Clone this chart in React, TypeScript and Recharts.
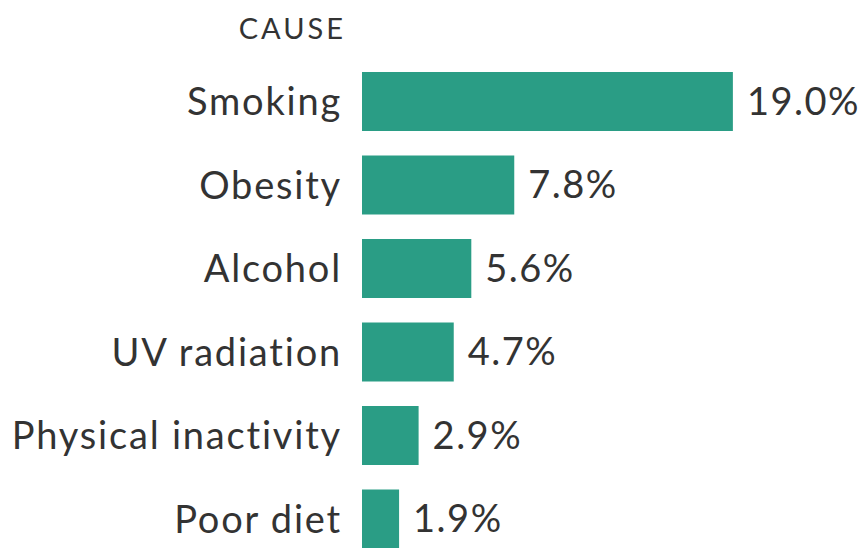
import { BarChart, Bar, XAxis, YAxis, LabelList } from "recharts";

// Share of cancer cases by cause
const causes = ["Smoking", "Obesity", "Alcohol", "UV radiation", "Physical inactivity", "Poor diet"];
const shares = [19.0, 7.8, 5.6, 4.7, 2.9, 1.9];

const data = causes.map((cause, i) => ({ cause, share: shares[i] }));

const theme = {
  bar: "#2a9d85",
  text: "#333333",
  font: "Lato, 'Open Sans', sans-serif",
};

export default function App() {
  return (
    <div style={{ position: "absolute", left: 0, top: 0, width: 865, height: 548, overflow: "hidden", background: "#fff" }}>
      <div
        style={{
          position: "absolute",
          right: 865 - 346,
          top: 10,
          fontFamily: theme.font,
          fontSize: 29,
          letterSpacing: 3,
          color: theme.text,
          lineHeight: "36px",
        }}
      >
        CAUSE
      </div>
      <BarChart
        width={865}
        height={580}
        data={data}
        layout="vertical"
        margin={{ top: 60, right: 15, bottom: 19, left: 0 }}
        barSize={59}
      >
        <XAxis type="number" domain={[0, 25]} hide />
        <YAxis
          type="category"
          dataKey="cause"
          width={362}
          axisLine={false}
          tickLine={false}
          tickSize={0}
          tickMargin={20}
          tick={{ fill: theme.text, fontSize: 38, fontFamily: theme.font, letterSpacing: 1.8 }}
        />
        <Bar dataKey="share" fill={theme.bar} isAnimationActive={false}>
          <LabelList
            dataKey="share"
            position="right"
            offset={14}
            formatter={(v: any) => `${Number(v).toFixed(1)}%`}
            style={{ fill: theme.text, fontSize: 38, fontFamily: theme.font, letterSpacing: 1.5 }}
          />
        </Bar>
      </BarChart>
    </div>
  );
}
